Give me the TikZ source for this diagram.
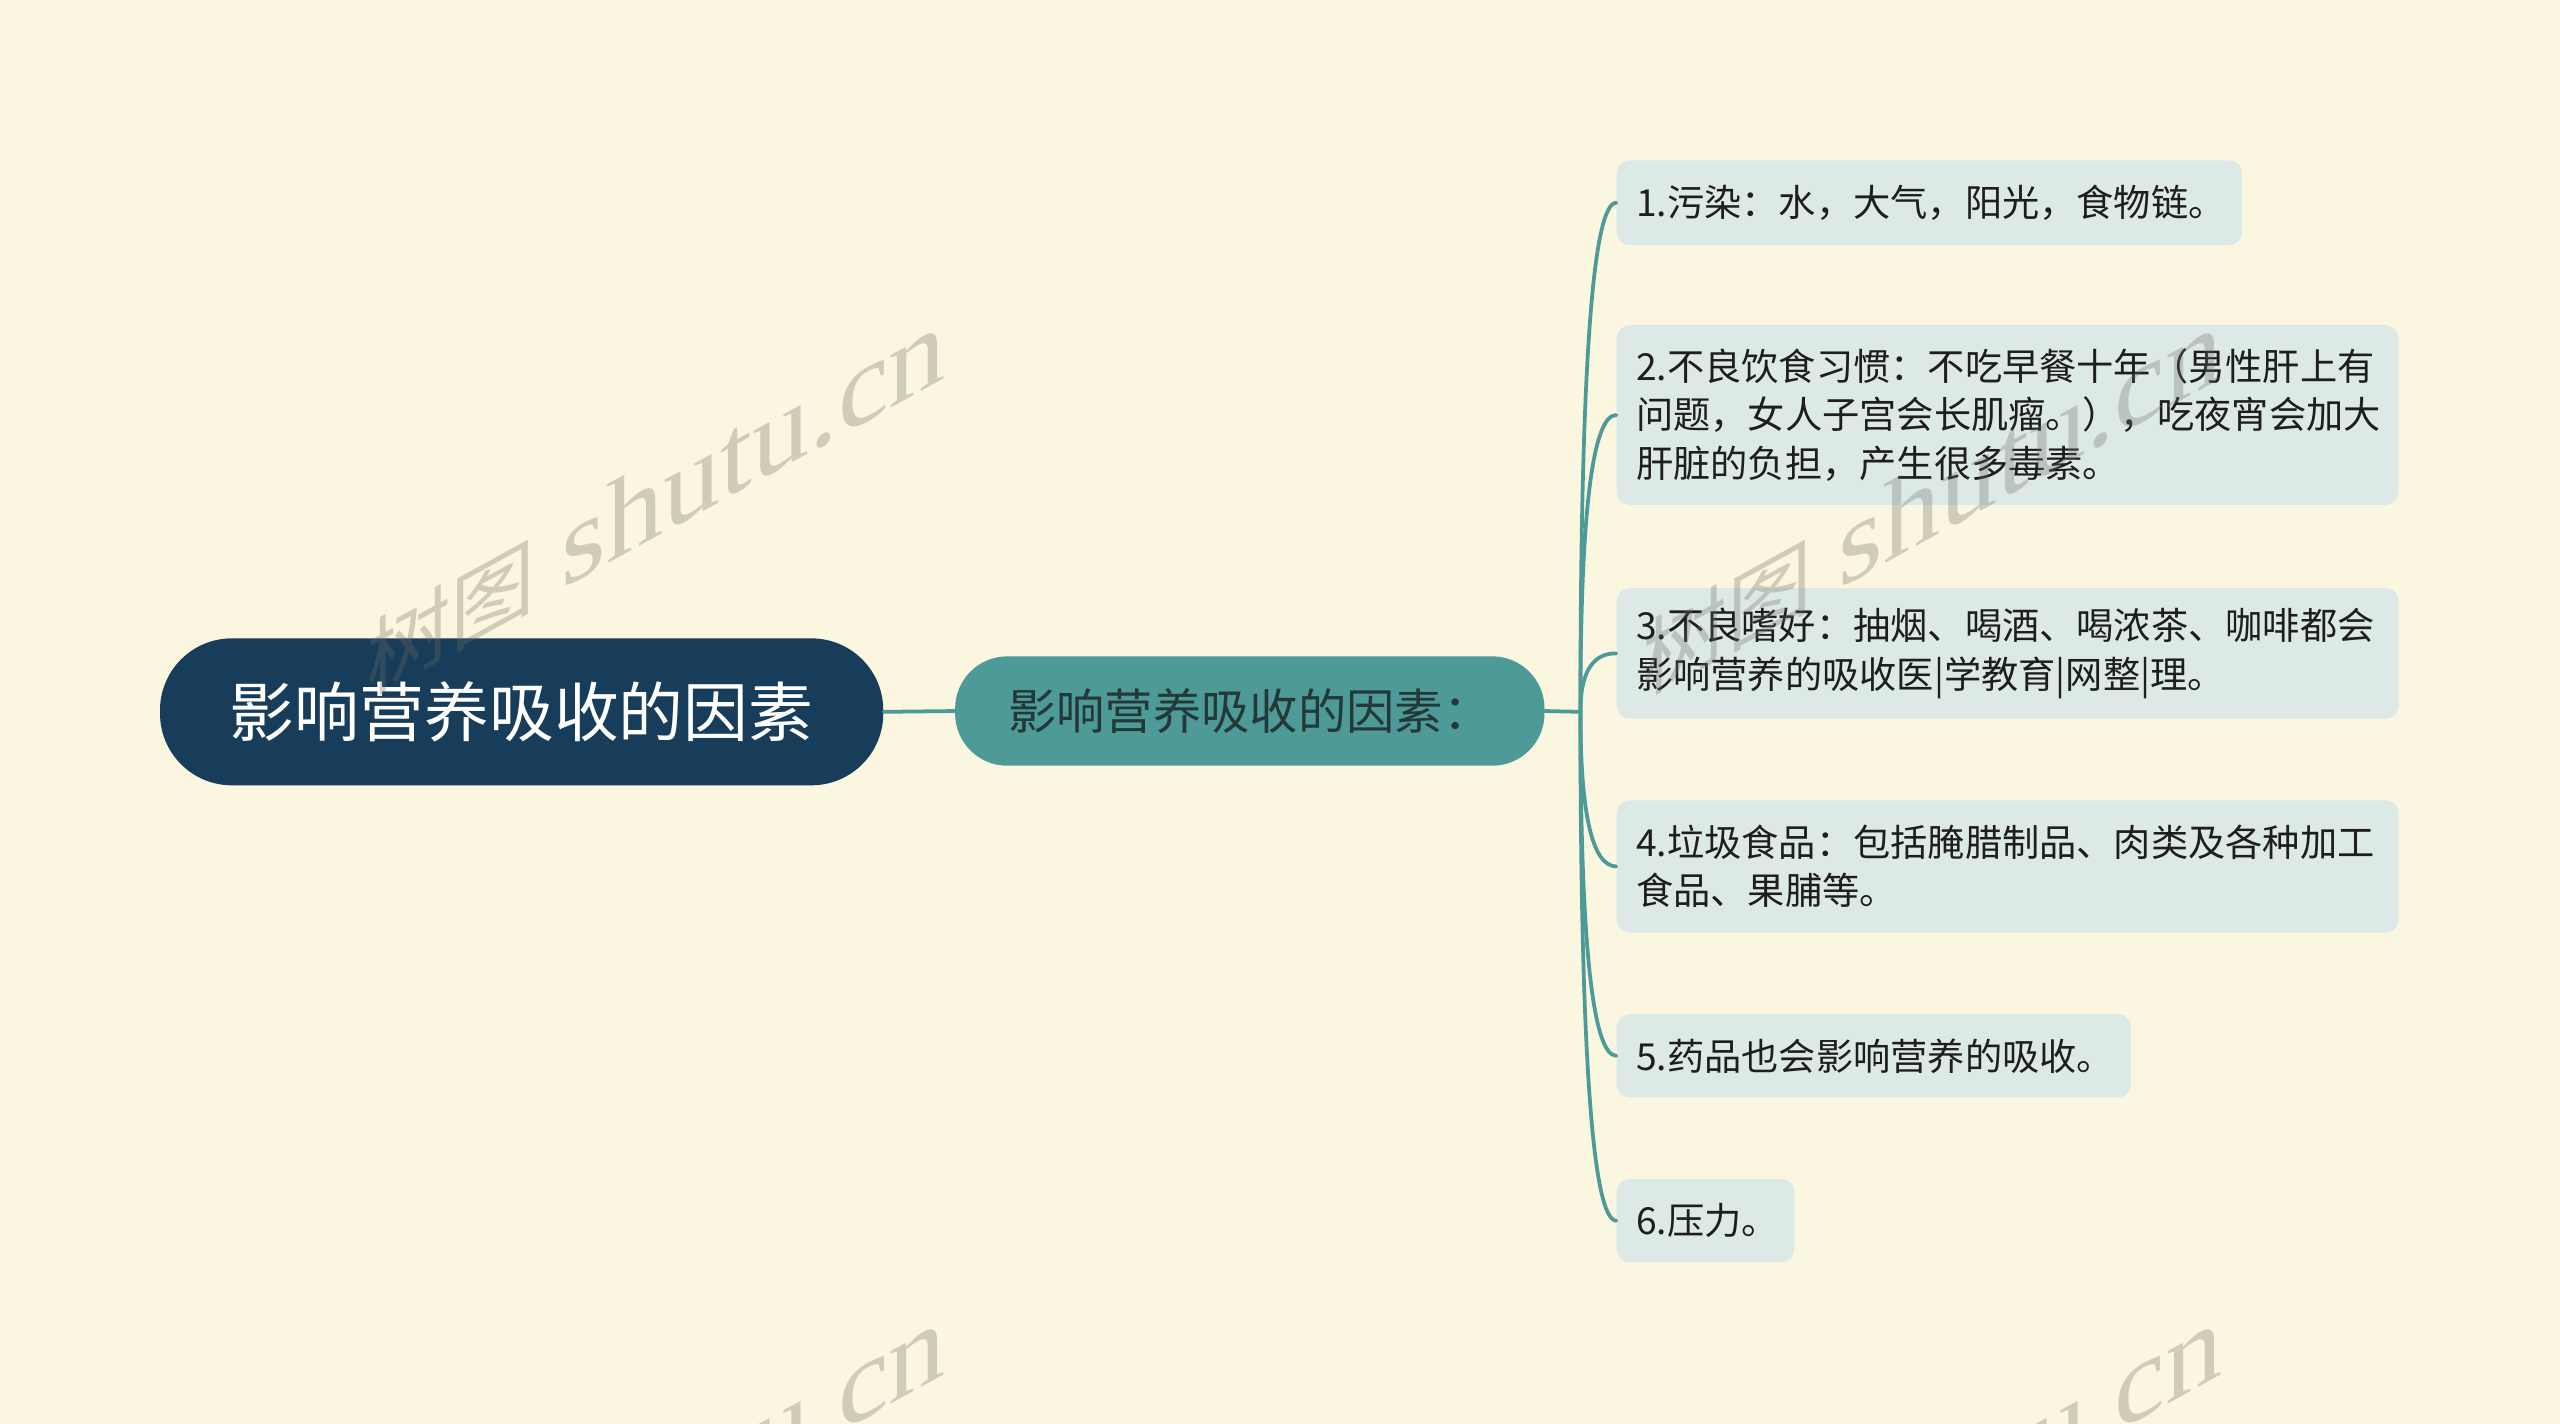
\documentclass[tikz,border=0pt]{standalone}
\usepackage{fontspec}
\setmainfont{Noto Sans CJK SC}
\newfontfamily\wmlatin{Liberation Serif}
\newfontfamily\wmcjk{Noto Sans CJK SC}
\definecolor{bgcol}{HTML}{FAF6E0}
\definecolor{rootcol}{HTML}{173D5B}
\definecolor{subcol}{HTML}{4D9A99}
\definecolor{subtext}{HTML}{243838}
\definecolor{leafcol}{HTML}{DCE9E7}
\definecolor{leaftext}{HTML}{1E1E1E}
\definecolor{linkcol}{HTML}{4D9A99}
\definecolor{wmcol}{RGB}{110,109,97}
\newcommand{\wmtext}{{\fontsize{52}{52}\selectfont\wmcjk 树图}\hspace{16pt}{\fontsize{70}{70}\selectfont\wmlatin shutu.cn}}
\begin{document}
\begin{tikzpicture}[x=1pt,y=-1pt,
  rootbox/.style={fill=rootcol, rounded corners=44, minimum width=443, minimum height=90,
    inner sep=0, text=white, font=\fontsize{39.7}{40}\selectfont},
  subbox/.style={fill=subcol, rounded corners=32, minimum width=361, minimum height=67,
    inner sep=0, text=subtext, font=\fontsize{29.6}{30}\selectfont},
  leaf/.style={fill=leafcol, rounded corners=8, anchor=north west, align=left,
    inner xsep=12, inner ysep=0, text=leaftext, font=\fontsize{22.8}{29.5}\selectfont},
  link/.style={draw=linkcol, line width=2.3, line cap=round},
  wmark/.style={text=wmcol, opacity=0.3, anchor=base west, inner sep=0, yslant=0.55}
]
\useasboundingbox (0,0) rectangle (1568,872);
\clip (0,0) rectangle (1568,872);
\fill[bgcol] (0,0) rectangle (1568,872);

% nodes
\node[rootbox] (root) at (319.5,436) {影响营养吸收的因素};
\node[subbox] (sub) at (765.5,435.5) {影响营养吸收的因素：};
\coordinate (trunk) at (968,436);

\node[leaf, minimum width=383, minimum height=52, text width=359] (l1) at (990,98)
  {1.污染：水，大气，阳光，食物链。};
\node[leaf, minimum width=479, minimum height=110, text width=455] (l2) at (990,199)
  {2.不良饮食习惯：不吃早餐十年（男性肝上有\\问题，女人子宫会长肌瘤。），吃夜宵会加大\\肝脏的负担，产生很多毒素。};
\node[leaf, minimum width=479, minimum height=80, text width=455] (l3) at (990,360)
  {3.不良嗜好：抽烟、喝酒、喝浓茶、咖啡都会\\影响营养的吸收医|学教育|网整|理。};
\node[leaf, minimum width=479, minimum height=81, text width=455] (l4) at (990,490)
  {4.垃圾食品：包括腌腊制品、肉类及各种加工\\食品、果脯等。};
\node[leaf, minimum width=315, minimum height=51, text width=291] (l5) at (990,621)
  {5.药品也会影响营养的吸收。};
\node[leaf, minimum width=109, minimum height=51, text width=85] (l6) at (990,722)
  {6.压力。};

% connectors
\draw[link] (root.east) -- (sub.west);
\draw[link] (sub.east) -- (trunk);
\draw[link] (trunk) .. controls (968,228) and (975.3,124) .. (l1.west);
\draw[link] (trunk) .. controls (968,314.7) and (975.3,254) .. (l2.west);
\draw[link] (trunk) .. controls (968,412) and (975.3,400) .. (l3.west);
\draw[link] (trunk) .. controls (968,499) and (975.3,530.5) .. (l4.west);
\draw[link] (trunk) .. controls (968,576.3) and (975.3,646.5) .. (l5.west);
\draw[link] (trunk) .. controls (968,643.7) and (975.3,747.5) .. (l6.west);

% watermarks
\node[wmark] (wm1) at (224,427) {\wmtext};
\node[wmark] (wm2) at (1006,427) {\wmtext};
\node[wmark] (wm3) at (224,1037) {\wmtext};
\node[wmark] (wm4) at (1006,1037) {\wmtext};
\end{tikzpicture}
\end{document}
